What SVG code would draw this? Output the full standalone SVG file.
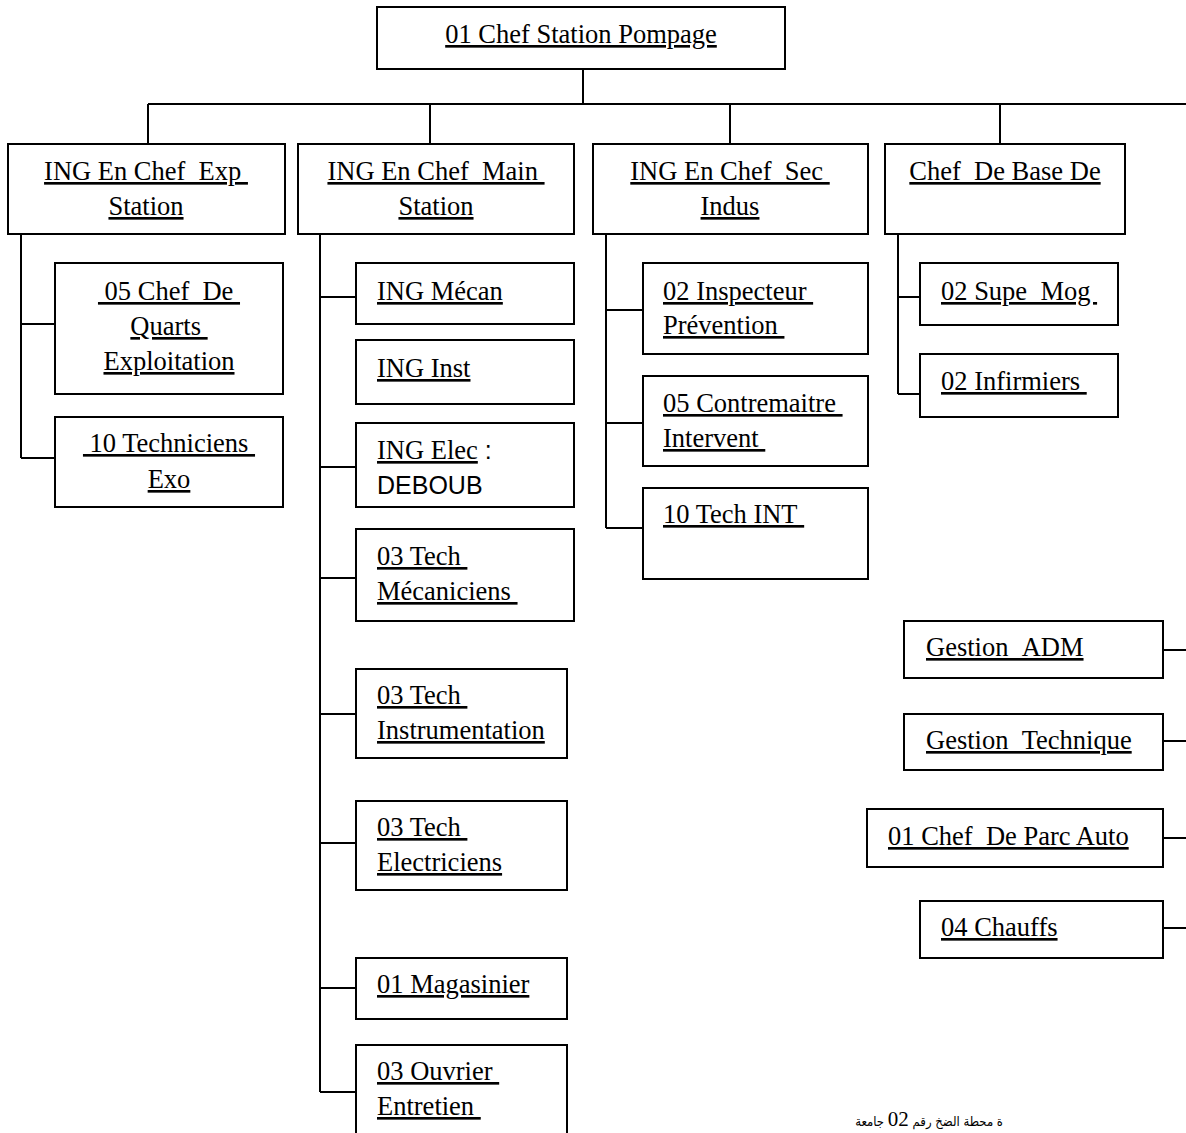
<svg xmlns="http://www.w3.org/2000/svg" width="1186" height="1133" viewBox="0 0 1186 1133">
<style>
.box{fill:#fff;stroke:#000;stroke-width:2}
.ln{fill:none;stroke:#000;stroke-width:2}
text{font-family:"Liberation Serif","Times New Roman",serif;font-size:26.5px;fill:#000}
.u{text-decoration:underline}
.c{text-anchor:middle}
.sans{font-family:"Liberation Sans",Arial,sans-serif;font-size:25px}
.ar{font-family:"DejaVu Sans Condensed","DejaVu Sans","Noto Sans",sans-serif;font-size:13px;text-anchor:end}
.num{font-family:"Liberation Serif","Times New Roman",serif;font-size:21px}
</style>
<rect width="1186" height="1133" fill="#fff"/>
<g id="connectors">
<path class="ln" d="M583 69V104M148 104H1186M148 104V144M430 104V144M730 104V144M1000 104V144"/>
<path class="ln" d="M21 234V458M21 324H55M21 458H55"/>
<path class="ln" d="M320 234V1092M320 297H356M320 467H356M320 578H356M320 714H356M320 843H356M320 988H356M320 1092H356"/>
<path class="ln" d="M606 234V528M606 310H643M606 423H643M606 528H643"/>
<path class="ln" d="M898 234V394M898 297H920M898 394H920"/>
<path class="ln" d="M1163 650H1186M1163 741H1186M1163 838H1186M1163 928H1186"/>
</g>
<g id="n-chef-station">
<rect class="box" x="377" y="7" width="408" height="62"/>
<text class="u c" x="581" y="43">01 Chef Station Pompage</text>
</g>
<g id="n-ing-exp">
<rect class="box" x="8" y="144" width="277" height="90"/>
<text class="u c" x="146" y="180">ING En Chef &#160;Exp&#160;</text>
<text class="u c" x="146" y="215">Station</text>
</g>
<g id="n-ing-main">
<rect class="box" x="298" y="144" width="276" height="90"/>
<text class="u c" x="436" y="180">ING En Chef &#160;Main&#160;</text>
<text class="u c" x="436" y="215">Station</text>
</g>
<g id="n-ing-sec">
<rect class="box" x="593" y="144" width="275" height="90"/>
<text class="u c" x="730" y="180">ING En Chef &#160;Sec&#160;</text>
<text class="u c" x="730" y="215">Indus</text>
</g>
<g id="n-chef-base">
<rect class="box" x="885" y="144" width="240" height="90"/>
<text class="u c" x="1005" y="180">Chef &#160;De Base De</text>
</g>
<g id="n-chef-quarts">
<rect class="box" x="55" y="263" width="228" height="131"/>
<text class="u c" x="169" y="300">&#160;05 Chef &#160;De&#160;</text>
<text class="u c" x="169" y="335">Quarts&#160;</text>
<text class="u c" x="169" y="370">Exploitation</text>
</g>
<g id="n-techniciens-exo">
<rect class="box" x="55" y="417" width="228" height="90"/>
<text class="u c" x="169" y="452">&#160;10 Techniciens&#160;</text>
<text class="u c" x="169" y="488">Exo</text>
</g>
<g id="n-ing-mecan">
<rect class="box" x="356" y="263" width="218" height="61"/>
<text class="u" x="377" y="300">ING Mécan</text>
</g>
<g id="n-ing-inst">
<rect class="box" x="356" y="340" width="218" height="64"/>
<text class="u" x="377" y="377">ING Inst</text>
</g>
<g id="n-ing-elec">
<rect class="box" x="356" y="423" width="218" height="84"/>
<text x="377" y="459"><tspan class="u">ING Elec</tspan><tspan class="sans">&#160;:</tspan></text>
<text class="sans" x="377" y="494">DEBOUB</text>
</g>
<g id="n-tech-mecaniciens">
<rect class="box" x="356" y="529" width="218" height="92"/>
<text class="u" x="377" y="565">03 Tech&#160;</text>
<text class="u" x="377" y="600">Mécaniciens&#160;</text>
</g>
<g id="n-tech-instrumentation">
<rect class="box" x="356" y="669" width="211" height="89"/>
<text class="u" x="377" y="704">03 Tech&#160;</text>
<text class="u" x="377" y="739">Instrumentation</text>
</g>
<g id="n-tech-electriciens">
<rect class="box" x="356" y="801" width="211" height="89"/>
<text class="u" x="377" y="836">03 Tech&#160;</text>
<text class="u" x="377" y="871">Electriciens</text>
</g>
<g id="n-magasinier">
<rect class="box" x="356" y="958" width="211" height="61"/>
<text class="u" x="377" y="993">01 Magasinier</text>
</g>
<g id="n-ouvrier">
<rect class="box" x="356" y="1045" width="211" height="100"/>
<text class="u" x="377" y="1080">03 Ouvrier&#160;</text>
<text class="u" x="377" y="1115">Entretien&#160;</text>
</g>
<g id="n-inspecteur">
<rect class="box" x="643" y="263" width="225" height="91"/>
<text class="u" x="663" y="300">02 Inspecteur&#160;</text>
<text class="u" x="663" y="334">Prévention&#160;</text>
</g>
<g id="n-contremaitre">
<rect class="box" x="643" y="376" width="225" height="90"/>
<text class="u" x="663" y="412">05 Contremaitre&#160;</text>
<text class="u" x="663" y="447">Intervent&#160;</text>
</g>
<g id="n-tech-int">
<rect class="box" x="643" y="488" width="225" height="91"/>
<text class="u" x="663" y="523">10 Tech INT&#160;</text>
</g>
<g id="n-supe-mog">
<rect class="box" x="920" y="263" width="198" height="62"/>
<text class="u" x="941" y="300">02 Supe &#160;Mog&#160;</text>
</g>
<g id="n-infirmiers">
<rect class="box" x="920" y="354" width="198" height="63"/>
<text class="u" x="941" y="390">02 Infirmiers&#160;</text>
</g>
<g id="n-gestion-adm">
<rect class="box" x="904" y="621" width="259" height="57"/>
<text class="u" x="926" y="656">Gestion &#160;ADM</text>
</g>
<g id="n-gestion-tech">
<rect class="box" x="904" y="714" width="259" height="56"/>
<text class="u" x="926" y="749">Gestion &#160;Technique</text>
</g>
<g id="n-parc-auto">
<rect class="box" x="867" y="809" width="296" height="58"/>
<text class="u" x="888" y="845">01 Chef &#160;De Parc Auto</text>
</g>
<g id="n-chauffs">
<rect class="box" x="920" y="901" width="243" height="57"/>
<text class="u" x="941" y="936">04 Chauffs</text>
</g>
<text class="ar" x="1003" y="1126">ة محطة الضخ رقم <tspan class="num">02</tspan> جامعة</text>
</svg>
